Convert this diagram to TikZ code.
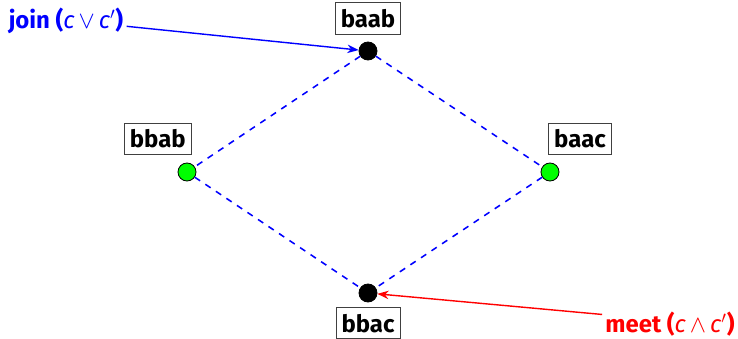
\documentclass[tikz,border=0pt]{standalone}
\usepackage{fontspec}
\setmainfont{Fira Sans}
\usetikzlibrary{arrows.meta, positioning}

\begin{document}
\begin{tikzpicture}[x=0.025cm, y=-0.025cm, thick]

	\tikzset{
		joint/.style={
				circle, draw=black, fill=black, line width=0.6pt, inner sep=0pt, minimum size=0.45cm
			},
		leaf/.style={
				circle, draw=black, fill=green, line width=0.6pt, inner sep=0pt, minimum size=0.45cm
			},
		word/.style={
				draw=black!75, fill=white, line width=0.6pt, inner sep=4pt, minimum height=0.78cm,
				font=\fontsize{17}{20}\selectfont\bfseries
			},
		order/.style={
				draw=blue, line width=1.1pt, dash pattern=on 4.5pt off 4.5pt
			},
		tag/.style={
				inner sep=2pt, font=\fontsize{17}{20}\selectfont
			},
	}
	\useasboundingbox (0,0) rectangle (738,338);

	\node[joint](top) at (368,51){};
	\node[leaf](lft) at (187,172){};
	\node[leaf](rgt) at (550,172){};
	\node[joint](bot) at (368,293){};

	\node[word, above=0.18cm of top](ltop){baab};
	\node[word, above=0.2cm of lft, xshift=-0.73cm](llft){bbab};
	\node[word, above=0.2cm of rgt, xshift=0.75cm](lrgt){baac};
	\node[word, below=0.12cm of bot](lbot){bbac};

	\draw[order] (top) to (lft);
	\draw[order] (top) to (rgt);
	\draw[order] (lft) to (bot);
	\draw[order] (rgt) to (bot);

	\node[tag, text=blue] (join) at (66,21){\textbf{join (}\textit{c}\,$\vee$\,\textit{c}$'$\textbf{)}};
	\node[tag, text=red] (meet) at (670,324){\textbf{meet (}\textit{c}\,$\wedge$\,\textit{c}$'$\textbf{)}};

	\draw[blue, -{Stealth[length=8pt]}, line width=1pt] (join.-5) to (top);
	\draw[red, -{Stealth[length=8pt]}, line width=1pt] (meet.172) to (bot);

\end{tikzpicture}
\end{document}
